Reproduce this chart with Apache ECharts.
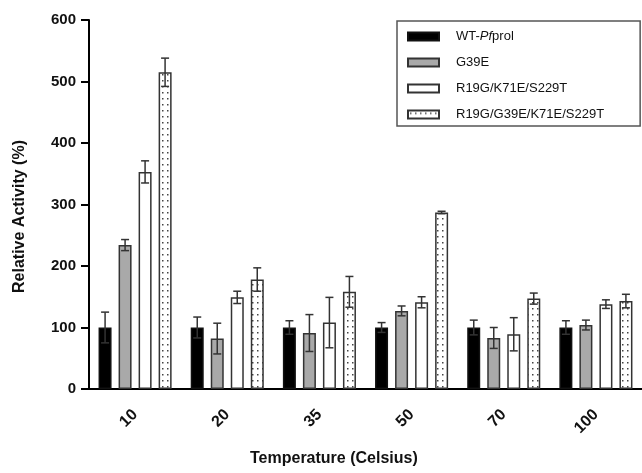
<!DOCTYPE html>
<html>
<head>
<meta charset="utf-8">
<script src="https://cdn.jsdelivr.net/npm/echarts@6/dist/echarts.min.js"></script>
<style>
  html, body { margin: 0; padding: 0; background: #fff; }
  #chart { width: 642px; height: 473px; }
</style>
</head>
<body>
<div id="chart"></div>
<script>
  // values
  const categories = ['10', '20', '35', '50', '70', '100']
  const seriesNames = ['WT-Pfprol', 'G39E', 'R19G/K71E/S229T', 'R19G/G39E/K71E/S229T']
  const wtValues = [100, 100, 100, 100, 100, 100]
  const wtErr = [25, 17, 11, 8, 12, 11]
  const g39eValues = [234, 82, 91, 127, 83, 104]
  const g39eErr = [9, 25, 30, 8, 17, 8]
  const tripleValues = [353, 149, 108, 141, 89, 138]
  const tripleErr = [18, 10, 41, 9, 27, 7]
  const quadValues = [515, 178, 158, 287, 147, 143]
  const quadErr = [23, 19, 25, 2, 9, 11]
  const yTicks = [0, 100, 200, 300, 400, 500, 600]

  const font = 'Arial, "Liberation Sans", Helvetica, sans-serif'
  const barWidth = 13
  const barStride = 20

  // dotted fill for the last series
  const pat = document.createElement('canvas')
  pat.width = 5
  pat.height = 6
  const pctx = pat.getContext('2d')
  pctx.fillStyle = '#ffffff'
  pctx.fillRect(0, 0, 5, 6)
  pctx.fillStyle = '#444444'
  pctx.fillRect(2, 2, 1.5, 1.5)

  const styles = [
    { color: '#000000', borderColor: '#111111', borderWidth: 1.5 },
    { color: '#a9a9a9', borderColor: '#333333', borderWidth: 1.5 },
    { color: '#ffffff', borderColor: '#333333', borderWidth: 1.5 },
    { color: { image: pat, repeat: 'repeat' }, borderColor: '#333333', borderWidth: 1.5 },
  ]

  const allValues = [wtValues, g39eValues, tripleValues, quadValues]
  const allErr = [wtErr, g39eErr, tripleErr, quadErr]

  function errorSeries(idx) {
    const offset = (idx - 1.5) * barStride
    return {
      type: 'custom',
      name: seriesNames[idx] + ' err',
      z: 5,
      silent: true,
      data: categories.map((c, i) => [i, allValues[idx][i], allErr[idx][i]]),
      encode: { x: 0, y: 1 },
      renderItem: function (params, api) {
        const cat = api.value(0)
        const v = api.value(1)
        const e = api.value(2)
        const x = api.coord([cat, 0])[0] + offset
        const top = api.coord([cat, v + e])[1]
        const bot = api.coord([cat, v - e])[1]
        const st = { stroke: '#333333', lineWidth: 1.5 }
        return {
          type: 'group',
          children: [
            { type: 'line', shape: { x1: x, y1: top, x2: x, y2: bot }, style: st },
            { type: 'line', shape: { x1: x - 4, y1: top, x2: x + 4, y2: top }, style: st },
            { type: 'line', shape: { x1: x - 4, y1: bot, x2: x + 4, y2: bot }, style: st },
          ],
        }
      },
    }
  }

  const barSeries = seriesNames.map((name, idx) => ({
    type: 'bar',
    name: name,
    data: allValues[idx],
    barWidth: barWidth,
    barGap: ((barStride - barWidth) / barWidth * 100).toFixed(0) + '%',
    itemStyle: styles[idx],
    emphasis: { disabled: true },
  }))

  const chart = echarts.init(document.getElementById('chart'), null, { renderer: 'canvas' })
  chart.setOption({
    animation: false,
    backgroundColor: '#ffffff',
    title: {
      text: 'Temperature (Celsius)',
      left: 250,
      top: 451,
      padding: 0,
      textStyle: { fontFamily: font, fontSize: 16, fontWeight: 'bold', color: '#111' },
    },
    legend: {
      data: seriesNames.map((n) => ({ name: n, icon: 'rect' })),
      orient: 'vertical',
      left: 397,
      top: 21,
      padding: [9, 36, 5, 10],
      itemWidth: 31,
      itemHeight: 8,
      itemGap: 13,
      borderColor: '#555555',
      borderWidth: 1.5,
      selectedMode: false,
      textStyle: {
        fontFamily: font,
        fontSize: 13,
        color: '#111',
        padding: [0, 0, 0, 12],
        rich: { i: { fontFamily: font, fontSize: 13, fontStyle: 'italic', color: '#111' } },
      },
      formatter: function (name) {
        return name === 'WT-Pfprol' ? 'WT-{i|Pf}prol' : name
      },
    },
    grid: { left: 89, right: -4.5, top: 20, bottom: 84 },
    xAxis: {
      type: 'category',
      data: categories,
      axisLine: { lineStyle: { color: '#000', width: 2 } },
      axisTick: { alignWithLabel: true, length: 7, lineStyle: { color: '#000', width: 2 } },
      axisLabel: {
        rotate: 45,
        margin: 23,
        fontFamily: font,
        fontSize: 16,
        fontWeight: 'bold',
        color: '#111',
      },
    },
    yAxis: {
      type: 'value',
      min: yTicks[0],
      max: yTicks[yTicks.length - 1],
      interval: yTicks[1] - yTicks[0],
      name: 'Relative Activity (%)',
      nameLocation: 'middle',
      nameGap: 61,
      nameTextStyle: {
        fontFamily: font,
        fontSize: 16,
        fontWeight: 'bold',
        color: '#111',
        padding: [0, 24, 0, 0],
      },
      splitLine: { show: false },
      axisLine: { show: true, lineStyle: { color: '#000', width: 2 } },
      axisTick: { show: true, length: 8, lineStyle: { color: '#000', width: 2 } },
      axisLabel: {
        margin: 13,
        fontFamily: font,
        fontSize: 15,
        fontWeight: 'bold',
        color: '#111',
      },
    },
    series: barSeries.concat(seriesNames.map((n, idx) => errorSeries(idx))),
  })
</script>
</body>
</html>
